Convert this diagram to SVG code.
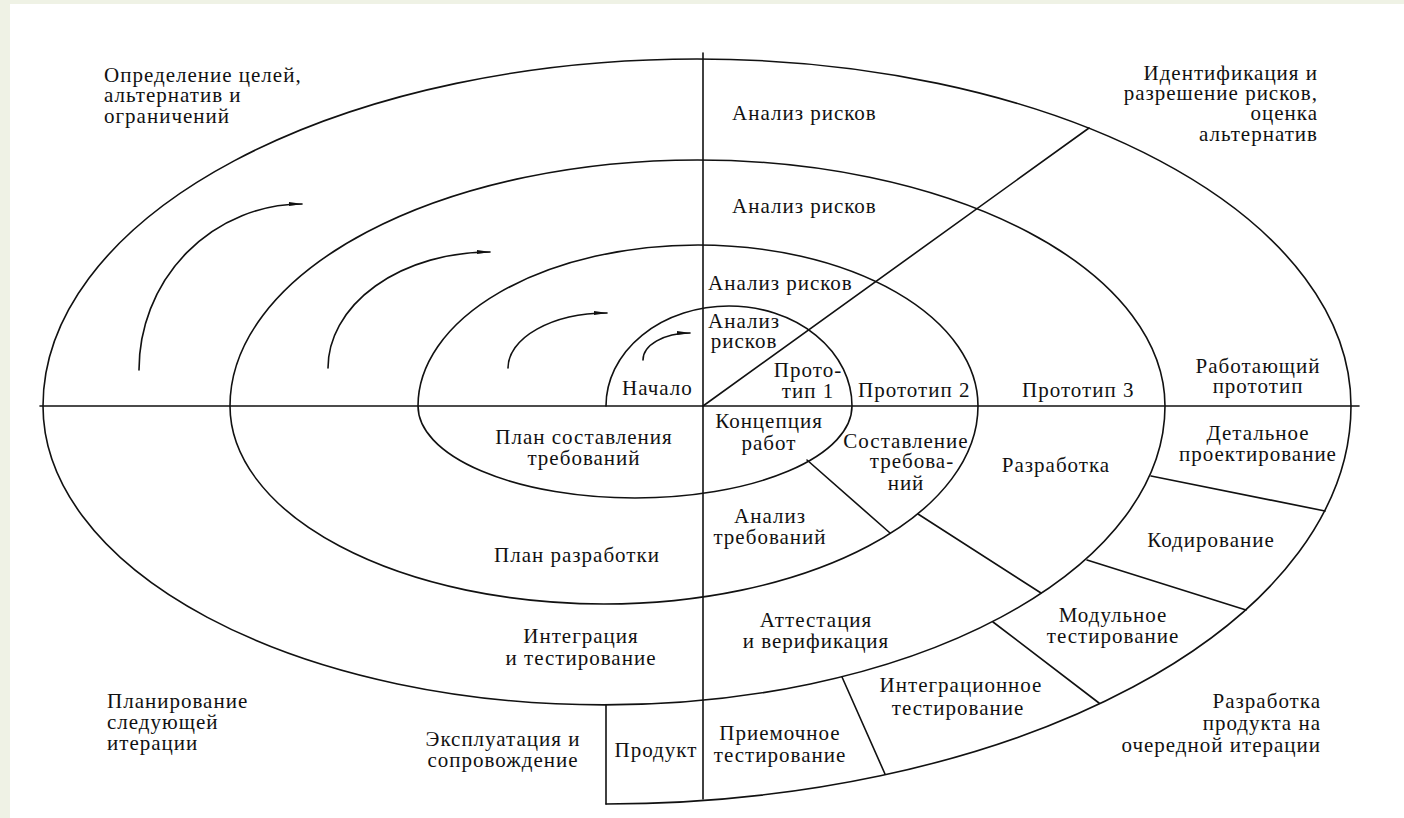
<svg xmlns="http://www.w3.org/2000/svg" width="1404" height="818" viewBox="0 0 1404 818">
  <style>
    .ln { fill: none; stroke: #111; stroke-width: 1.6; stroke-linecap: round; stroke-linejoin: round; }
    .t { font-family: "Liberation Serif", "Times New Roman", serif; font-size: 21px; letter-spacing: 1px; fill: #111; }
    .m { text-anchor: middle; }
    .e { text-anchor: end; }
  </style>
  <defs>
    <marker id="arrow" viewBox="0 0 14 6" refX="13" refY="3" markerWidth="14" markerHeight="6" markerUnits="userSpaceOnUse" orient="auto">
      <path d="M0 0.9 L14 3 L0 5.1 Z" fill="#111"/>
    </marker>
  </defs>

  <!-- page -->
  <rect x="0" y="0" width="1404" height="818" fill="#ffffff"/>
  <rect x="0" y="0" width="1404" height="4" fill="#eff2e5"/>
  <rect x="0" y="0" width="10" height="818" fill="#eff2e5"/>

  <!-- axes, spiral, sector dividers and direction arrows -->
  <g id="connectors">
    <g id="axes">
      <path class="ln" d="M40 406 H1359"/>
      <path class="ln" d="M703 53 V799"/>
    </g>
    <g id="spiral">
      <path class="ln" d="M606 406
        A123 100 0 0 1 852 406
        A217 92 0 0 1 418 406
        A280 161 0 0 1 978 406
        A374 198 0 0 1 230 406
        A467.5 246 0 0 1 1165 406
        A561 299 0 0 1 43 406
        A654 347 0 0 1 1351 406
        A747 398 0 0 1 606 804"/>
    </g>
    <g id="dividers">
      <path class="ln" d="M703 406 L1089 128"/>
      <path class="ln" d="M807 460 L890 533"/>
      <path class="ln" d="M918 514 L1041 593"/>
      <path class="ln" d="M993 622 L1099 703"/>
      <path class="ln" d="M842 677 L885 774"/>
      <path class="ln" d="M1087 560 L1246 610"/>
      <path class="ln" d="M1151 476 L1325 511"/>
      <path class="ln" d="M606 705 L606 804"/>
    </g>
    <g id="arrows">
      <path class="ln" d="M139 370 A163 166 0 0 1 302 204" marker-end="url(#arrow)"/>
      <path class="ln" d="M328 368 A162 116 0 0 1 490 252" marker-end="url(#arrow)"/>
      <path class="ln" d="M508 368 A99 55 0 0 1 607 313" marker-end="url(#arrow)"/>
      <path class="ln" d="M643 360 A47 27 0 0 1 690 333" marker-end="url(#arrow)"/>
    </g>
  </g>

  <!-- quadrant captions -->
  <g id="q-goals">
    <text class="t" x="104" y="82">Определение целей,</text>
    <text class="t" x="104" y="102">альтернатив и</text>
    <text class="t" x="104" y="123">ограничений</text>
  </g>
  <g id="q-risks">
    <text class="t e" x="1318" y="80">Идентификация и</text>
    <text class="t e" x="1318" y="100">разрешение рисков,</text>
    <text class="t e" x="1318" y="120">оценка</text>
    <text class="t e" x="1318" y="141">альтернатив</text>
  </g>
  <g id="q-planning">
    <text class="t" x="107" y="708">Планирование</text>
    <text class="t" x="107" y="729">следующей</text>
    <text class="t" x="107" y="750">итерации</text>
  </g>
  <g id="q-development">
    <text class="t e" x="1321" y="708">Разработка</text>
    <text class="t e" x="1321" y="730">продукта на</text>
    <text class="t e" x="1321" y="752">очередной итерации</text>
  </g>

  <!-- risk analysis bands -->
  <g id="risk-4"><text class="t" x="732" y="120">Анализ рисков</text></g>
  <g id="risk-3"><text class="t" x="732" y="213">Анализ рисков</text></g>
  <g id="risk-2"><text class="t" x="708" y="290">Анализ рисков</text></g>
  <g id="risk-1">
    <text class="t m" x="744" y="328">Анализ</text>
    <text class="t m" x="744" y="348">рисков</text>
  </g>

  <!-- prototypes -->
  <g id="start"><text class="t" x="622" y="395">Начало</text></g>
  <g id="proto-1">
    <text class="t m" x="808" y="377">Прото-</text>
    <text class="t m" x="808" y="398">тип 1</text>
  </g>
  <g id="proto-2"><text class="t" x="858" y="397">Прототип 2</text></g>
  <g id="proto-3"><text class="t" x="1022" y="397">Прототип 3</text></g>
  <g id="proto-work">
    <text class="t m" x="1258" y="373">Работающий</text>
    <text class="t m" x="1258" y="393">прототип</text>
  </g>

  <!-- planning sectors -->
  <g id="plan-req">
    <text class="t m" x="584" y="444">План составления</text>
    <text class="t m" x="584" y="465">требований</text>
  </g>
  <g id="plan-dev"><text class="t m" x="577" y="562">План разработки</text></g>
  <g id="integration">
    <text class="t m" x="581" y="643">Интеграция</text>
    <text class="t m" x="581" y="665">и тестирование</text>
  </g>
  <g id="operation">
    <text class="t m" x="503" y="746">Эксплуатация и</text>
    <text class="t m" x="503" y="767">сопровождение</text>
  </g>
  <g id="product"><text class="t m" x="656" y="757">Продукт</text></g>

  <!-- engineering sectors -->
  <g id="concept">
    <text class="t m" x="769" y="428">Концепция</text>
    <text class="t m" x="769" y="450">работ</text>
  </g>
  <g id="req-spec">
    <text class="t m" x="906" y="448">Составление</text>
    <text class="t m" x="912" y="468">требова-</text>
    <text class="t m" x="906" y="490">ний</text>
  </g>
  <g id="req-analysis">
    <text class="t m" x="770" y="523">Анализ</text>
    <text class="t m" x="770" y="544">требований</text>
  </g>
  <g id="design"><text class="t m" x="1056" y="472">Разработка</text></g>
  <g id="detail-design">
    <text class="t m" x="1258" y="440">Детальное</text>
    <text class="t m" x="1258" y="461">проектирование</text>
  </g>
  <g id="coding"><text class="t m" x="1211" y="547">Кодирование</text></g>
  <g id="unit-test">
    <text class="t m" x="1113" y="622">Модульное</text>
    <text class="t m" x="1113" y="643">тестирование</text>
  </g>
  <g id="validation">
    <text class="t m" x="816" y="627">Аттестация</text>
    <text class="t m" x="816" y="648">и верификация</text>
  </g>
  <g id="integration-test">
    <text class="t m" x="961" y="692">Интеграционное</text>
    <text class="t m" x="958" y="715">тестирование</text>
  </g>
  <g id="acceptance-test">
    <text class="t m" x="780" y="740">Приемочное</text>
    <text class="t m" x="780" y="762">тестирование</text>
  </g>
</svg>
